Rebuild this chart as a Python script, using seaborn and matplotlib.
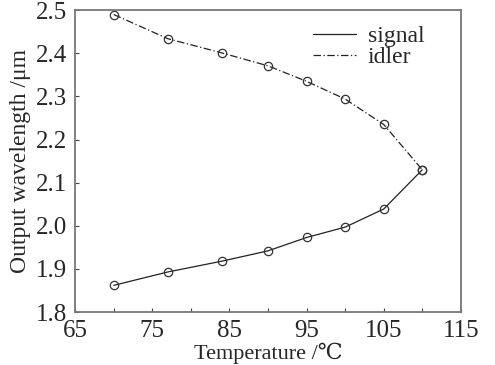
import pandas as pd
import seaborn as sns
import matplotlib.pyplot as plt

temperature = [70, 77, 84, 90, 95, 100, 105, 110]
signal = [1.862, 1.893, 1.918, 1.942, 1.973, 1.997, 2.039, 2.130]
idler = [2.490, 2.434, 2.401, 2.371, 2.335, 2.294, 2.235, 2.130]
x_ticks = [65, 75, 85, 95, 105, 115]
x_minor = [70, 80, 90, 100, 110]
y_ticks = [1.8, 1.9, 2.0, 2.1, 2.2, 2.3, 2.4, 2.5]

df = pd.DataFrame({'Temperature': temperature, 'signal': signal, 'idler': idler})

sns.set_style('white')
plt.rcParams['font.family'] = ['Liberation Serif', 'DejaVu Serif']

fig, ax = plt.subplots(figsize=(4.95, 3.65), dpi=100)
fig.subplots_adjust(left=0.152, right=0.931, top=0.972, bottom=0.145)

sns.lineplot(data=df, x='Temperature', y='signal', ax=ax, color='#222222',
             linewidth=0.9, linestyle='-', label='signal')
sns.lineplot(data=df, x='Temperature', y='idler', ax=ax, color='#222222',
             linewidth=0.9, linestyle=(0, (6, 2, 1, 2)), label='idler')
# marcadores abertos por cima das linhas
for col in ['signal', 'idler']:
    ax.plot(df['Temperature'], df[col], 'o', ms=6, mfc='none', mec='#333333', mew=0.9)

ax.set_xlim(65, 115)
ax.set_ylim(1.8, 2.5)
ax.set_xticks(x_ticks)
ax.set_xticks(x_minor, minor=True)
ax.set_yticks(y_ticks)
ax.set_yticklabels([f'{v:.1f}' for v in y_ticks])
ax.tick_params(which='both', direction='in', length=3, width=0.8, color='#444444',
               labelsize=18, top=False, right=False, bottom=True, left=True, pad=6)

for s in ax.spines.values():
    s.set_color('#777777')
    s.set_linewidth(1.3)

ax.set_xlabel('Temperature /℃', fontsize=16, labelpad=0)
ax.set_ylabel('Output wavelength /μm', fontsize=17, labelpad=3)

ax.legend(loc='upper right', bbox_to_anchor=(0.96, 1.02), frameon=False, fontsize=17,
          handlelength=1.8, handletextpad=0.5, labelspacing=0.0)

fig.savefig('out.png', dpi=100)
